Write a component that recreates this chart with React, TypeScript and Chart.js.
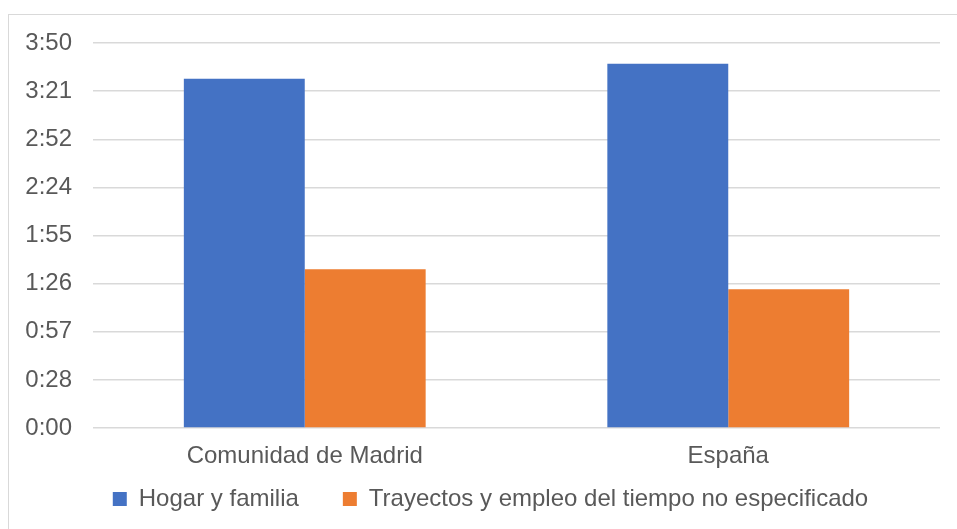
import React, { useEffect, useRef } from "react";
import { Chart, registerables } from "chart.js";

Chart.register(...registerables);

const categories = ["Comunidad de Madrid", "España"];
const seriesNames = ["Hogar y familia", "Trayectos y empleo del tiempo no especificado"];
// minutes
const hogarFamilia = [209, 218];
const trayectos = [95, 83];
const colors = ["#4472C4", "#ED7D31"];
const yMax = 230.4;
const yStep = 28.8;

const FONT = "'Liberation Sans', Arial, sans-serif";
const FS = 24;

function fmt(v: number) {
  const m = Math.floor(v + 1e-6);
  return `${Math.floor(m / 60)}:${String(m % 60).padStart(2, "0")}`;
}

const layoutTweaks = {
  id: "layoutTweaks",
  afterLayout(chart: any) {
    const lg = chart.legend;
    if (lg) {
      lg.left += 16;
      lg.right += 16;
    }
    const x = chart.scales.x;
    if (x) x.bottom = x.top + 60;
  },
};

export default function App() {
  const ref = useRef<HTMLCanvasElement | null>(null);
  useEffect(() => {
    document.documentElement.style.overflow = "hidden";
    const ctx = ref.current!;
    const chart = new Chart(ctx, {
      type: "bar",
      data: {
        labels: categories,
        datasets: [
          { label: seriesNames[0], data: hogarFamilia, backgroundColor: colors[0] },
          { label: seriesNames[1], data: trayectos, backgroundColor: colors[1] },
        ],
      },
      plugins: [layoutTweaks],
      options: {
        animation: false,
        responsive: false,
        maintainAspectRatio: false,
        layout: { padding: { left: 0, right: 17, top: 28, bottom: 8 } },
        datasets: { bar: { categoryPercentage: 0.571, barPercentage: 1 } },
        plugins: {
          tooltip: { enabled: false },
          legend: {
            position: "bottom",
            labels: {
              boxWidth: 14,
              boxHeight: 14,
              padding: 44,
              color: "#595959",
              font: { family: FONT, size: FS },
            },
          },
        },
        scales: {
          x: {
            grid: { display: false, drawTicks: false },
            border: { display: false },
            ticks: { color: "#595959", padding: 14, font: { family: FONT, size: FS } },
            afterFit: (s: any) => { s.height = 15; },
          },
          y: {
            min: 0,
            max: yMax,
            grid: { color: "#d9d9d9", lineWidth: 1.5, drawTicks: false },
            border: { display: false },
            ticks: {
              stepSize: yStep,
              color: "#595959",
              padding: 21,
              font: { family: FONT, size: FS },
              callback: (v: any) => fmt(Number(v)),
            },
            afterFit: (s: any) => {
              s.width = 84;
              s.paddingTop = 0;
              s.paddingBottom = 0;
            },
          },
        },
      },
    });
    return () => chart.destroy();
  }, []);
  return (
    <div
      style={{
        position: "absolute",
        left: 8,
        top: 14,
        borderTop: "1px solid #d9d9d9",
        borderLeft: "1px solid #d9d9d9",
        width: 960,
        height: 520,
        background: "#fff",
      }}
    >
      <canvas ref={ref} width={948} height={514} style={{ display: "block" }} />
    </div>
  );
}
